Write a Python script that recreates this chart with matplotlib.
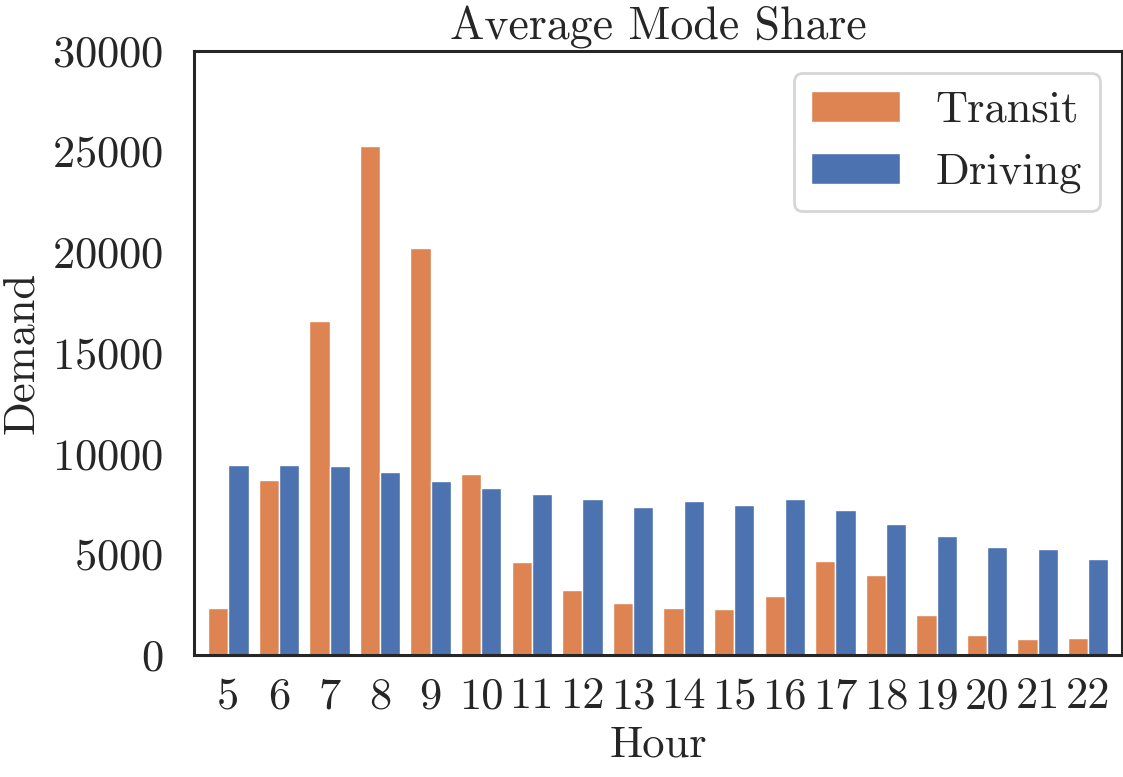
import matplotlib
matplotlib.use("Agg")
import matplotlib.pyplot as plt
import numpy as np
import seaborn as sns

hours = [5, 6, 7, 8, 9, 10, 11, 12, 13, 14, 15, 16, 17, 18, 19, 20, 21, 22]
transit = [2350, 8690, 16560, 25270, 20180, 8960, 4640, 3240, 2600, 2350,
           2300, 2950, 4690, 3990, 2000, 1010, 810, 860]
driving = [9450, 9450, 9400, 9060, 8660, 8310, 8010, 7720, 7370, 7620,
           7420, 7720, 7220, 6520, 5930, 5380, 5280, 4780]
series_names = ["Transit", "Driving"]
colors = ["#dd8452", "#4c72b0"]

sns.set_theme(style="white")
plt.rcParams["font.family"] = ["cmr10", "DejaVu Serif"]
plt.rcParams["mathtext.fontset"] = "cm"
plt.rcParams["axes.formatter.use_mathtext"] = True
plt.rcParams["axes.unicode_minus"] = False

fs = 32
fig = plt.figure(figsize=(11.23, 7.77), dpi=100)
ax = fig.add_axes([0.1727, 0.157, 0.9991 - 0.1727, 0.935 - 0.157])

x = np.arange(len(hours))
w = 0.4
ax.bar(x - w / 2, transit, width=w, color=colors[0], edgecolor="white",
       linewidth=1.0, label=series_names[0])
ax.bar(x + w / 2, driving, width=w, color=colors[1], edgecolor="white",
       linewidth=1.0, label=series_names[1])

ax.set_xlim(-0.68, len(hours) - 1 + 0.667)
ax.set_ylim(0, 30000)
ax.set_yticks(np.arange(0, 30001, 5000))
ax.set_xticks(x)
ax.set_xticklabels([str(h) for h in hours])
ax.tick_params(axis="x", length=0, pad=16, labelsize=fs, colors="#262626")
ax.tick_params(axis="y", length=0, pad=22, labelsize=fs, colors="#262626")

for s in ax.spines.values():
    s.set_linewidth(2.2)
    s.set_color("#262626")

ax.set_title("Average Mode Share", fontsize=33, color="#262626", pad=8)
ax.set_xlabel("Hour", fontsize=fs, color="#262626", labelpad=6)
ax.set_ylabel("Demand", fontsize=fs, color="#262626", labelpad=7)

leg = ax.legend(loc="upper right", fontsize=fs, frameon=True, fancybox=True)
leg.get_frame().set_edgecolor("#cccccc")
leg.get_frame().set_linewidth(2.0)
for t in leg.get_texts():
    t.set_color("#262626")

fig.savefig("out.png", dpi=100)
